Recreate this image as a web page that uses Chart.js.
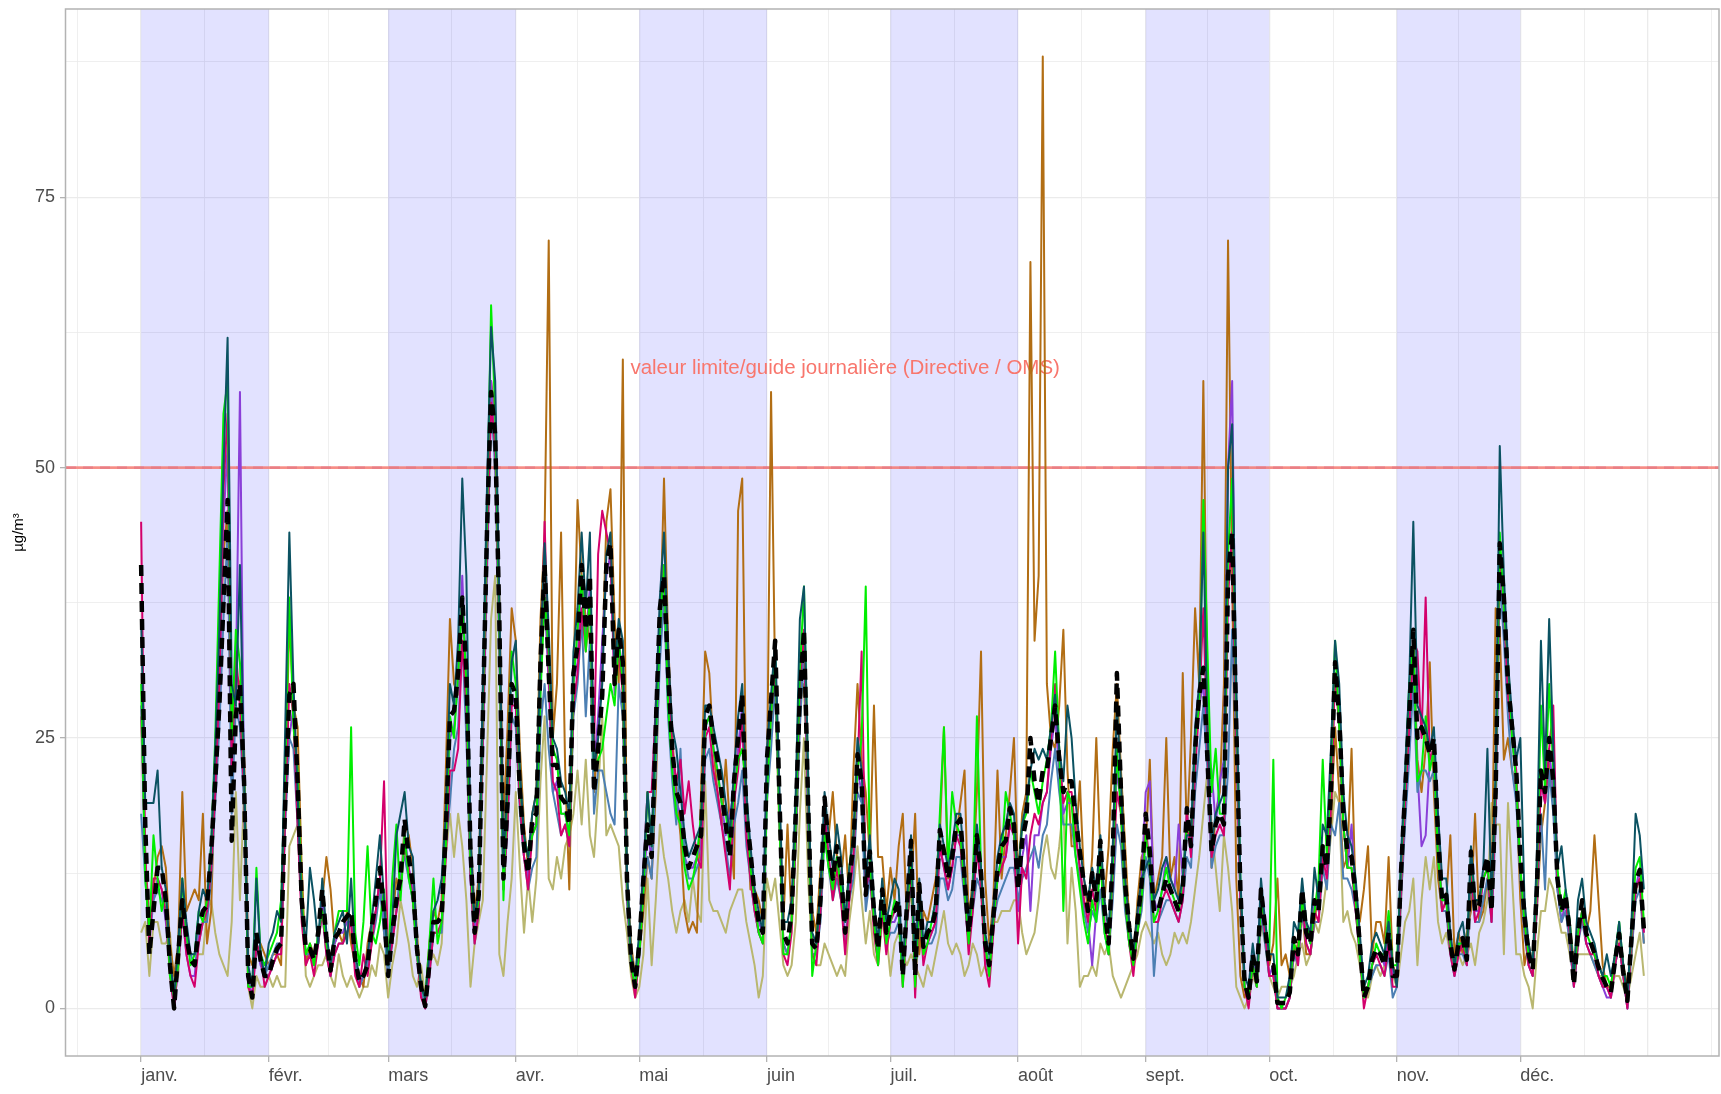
<!DOCTYPE html>
<html lang="fr">
<head>
<meta charset="utf-8">
<title>PM10 - moyennes journalières</title>
<script src="https://cdn.jsdelivr.net/npm/chart.js@4.4.1/dist/chart.umd.min.js"></script>
<style>
  html, body { margin: 0; padding: 0; background: #ffffff; }
  #chart { display: block; }
</style>
</head>
<body>
<canvas id="chart" width="1721" height="1094"></canvas>
<script>
// Month starts as day index from 1 Jan (leap year), last one is 1 Jan next year
const monthStarts = [0, 31, 60, 91, 121, 152, 182, 213, 244, 274, 305, 335, 366];
const monthLabels = ['janv.', 'févr.', 'mars', 'avr.', 'mai', 'juin', 'juil.', 'août', 'sept.', 'oct.', 'nov.', 'déc.'];
// Months shaded in the background (index in monthStarts)
const shadedMonths = [0, 2, 4, 6, 8, 10];
const yTickValues = [0, 25, 50, 75];
const limitValue = 50;
const limitLabel = 'valeur limite/guide journalière (Directive / OMS)';

// Daily values, µg/m³, one line per month
const stationMean = [
  41,17,5,9,13,13,10,4,0,5,10,6.5,4.5,4,7.5,9,9.5,14.5,21,28,37.5,47,15.5,27,30,21,3,1,7,4.5,3,
  3,4.5,5.5,6,19,29,30,21,10,5.5,5.5,4.5,7,11,6.5,3.5,6.5,7,8,8.5,9,4.5,2.5,3,4,7.5,10,13,9,
  3,7,10,12,17.5,14,11.5,5.5,2,0.2,4,8,8,8.5,16.5,27,27.5,31,38,31,14.5,7,10.5,27,44,57,53,36,12,19,30,
  29,20,15,12.5,17.5,18,32,41,31,22.5,22.5,19.5,19,17,31,33.5,41,35,40,20,24,29,41,43,30,35,32,12,4.5,2,
  6,12,17,14,26,37,40,31,24,20,19,15,13,14,15,16,27,28,25,23,20,17,14,21,25,29,18,14.5,10.5,8,7,
  23,28.5,34,20,7,6,9,18,29,35,19,6,5.5,10,19.5,15,12,15,12.5,7,12,15,23.5,21,10.5,14.5,9,5.5,11,7,
  9,9,10,3,9.5,15.5,3,11.5,5.7,7,7.5,9,16.5,14.5,12,14,17,17.5,12,7,10.5,16,12.5,6,4,8.5,13,15,15.5,18.5,17,
  11,15.5,17.5,25,21,19,22,22,25,28,23,20,21,21,17.5,14.5,11.5,9,12.5,10,15.5,9,6,14,31,20,11.5,7.5,4.6,8,11.5,
  18,14.5,9,9,10.5,12,11,10,9,11,18.5,15,24,29,31.5,23,14.5,17,18,17,40,44,26,11,2.5,1,5,2.5,11,7.5,
  4,4,0.5,0.5,0.5,1.5,6.5,5,11,7,6,10,9,15,13,20,32,27,18,14.5,14,10.5,6,1,2,4.5,5.5,5,4,7,3,
  3,12.5,20,27,35,25,26,25,23.5,25,16,10,10.5,6,3.6,6,6.5,4.5,14.5,9,9.5,12.5,14,9,20,43,38,30,26,22,
  14,8.5,5,3.6,11,22,20,25,21,12,9,10.5,7,2.2,7,10,6.9,6.2,5.1,3.8,2.8,2,1.5,4.4,6.9,3.3,0.7,6.6,11.7,12.8,7.3
];

const stationTeal = [
  36,19,19,19,22,13,11,5,1,6,12,8,5,5,9,11,10,15,24,35,50,62,30,28,41,22,4,2,12,5,3,
  6,7,9,8,26,44,30,20,9,6,13,10,6,12,7,4,7,8,9,6,12,5,3,3,5,8,12,16,10,
  4,8,16,18,20,15,14,6,2,1,5,9,10,12,18,30,28,34,49,40,16,8,11,30,48,63,58,38,13,22,32,
  34,22,16,14,18,20,33,43,35,25,24,21,20,18,33,37,44,37,44,22,25,30,42,44,31,36,34,13,5,3,
  7,13,20,15,28,38,44,33,26,24,20,16,14,15,16,17,28,28,26,24,22,19,16,22,27,30,20,15,11,9,7,
  24,29,34,21,8,8,10,20,36,39,22,7,6,11,20,16,13,17,14,8,13,16,25,22,12,16,10,6,12,8,
  10,12,11,4,10,16,4,12,6,8,8,10,17,15,13,15,18,18,13,8,11,17,13,7,5,9,14,16,17,19,18,
  12,17,19,22,24,23,24,23,26,29,24,21,28,25,19,15,12,10,13,11,16,10,7,15,28,21,12,8,5,9,12,
  13,14,10,11,13,14,12,11,10,12,16,16,26,30,44,26,15,18,19,20,50,54,30,12,3,2,6,3,12,8,
  5,5,1,1,1,3,8,7,12,8,7,13,10,17,16,24,34,30,20,16,15,12,7,2,3,6,7,6,5,8,4,
  2,14,22,30,45,28,27,26,24,26,18,12,12,7,4,7,8,5,15,10,10,13,24,10,22,52,40,32,27,23,
  25,10,6,4,14,34,22,36,24,13,15,11,8,3,10,12,8,7,6,4,3,5,3,5,8,4,1,8,18,16,11
];

const stationGreen = [
  30,12,7,16,12,9,11,3,1,4,12,7,4,5,9,8,10,15,25,40,55,58,25,35,32,22,2,2,13,5,4,
  5,6,7,10,22,38,26,22,10,5,6,4,7,9,6,4,7,9,9,9,26,7,4,8,15,7,6,8,11,
  4,12,17,10,16,12,10,5,2,1,6,12,6,8,15,27,25,31,38,30,13,8,10,28,45,65,55,35,10,21,33,
  30,21,16,14,16,17,29,38,33,24,23,18,18,16,30,35,40,33,38,22,23,24,27,30,28,34,30,12,4,2,
  5,11,20,15,25,35,41,28,22,18,17,13,11,12,14,18,26,27,24,22,19,18,15,20,23,24,20,13,10,7,6,
  20,27,33,18,5,5,8,17,31,39,21,3,6,11,16,13,11,14,11,8,13,16,22,25,39,14,8,4,10,6,
  8,10,9,2,9,14,2,10,5,6,8,10,18,26,13,20,17,16,11,6,11,27,13,6,3,8,12,14,20,18,16,
  12,17,18,22,20,18,21,23,26,33,24,9,20,19,14,11,8,6,10,8,14,7,5,13,24,18,10,6,4,7,10,
  16,13,8,9,11,13,11,10,9,12,17,16,25,28,47,33,20,24,18,18,42,49,28,12,2,1,4,2,10,8,
  5,23,1,0,1,2,6,5,10,8,6,9,12,23,14,22,34,26,17,13,13,10,5,1,2,4,6,5,5,9,4,
  4,13,21,30,34,21,22,27,22,24,14,10,10,6,4,6,6,5,14,10,10,12,13,10,21,44,37,32,25,21,
  13,8,5,4,12,28,20,30,22,13,9,11,8,3,7,9,7,6,5,4,3,3,2,5,8,4,1,7,13,14,8
];

const stationMagenta = [
  45,14,6,12,12,11,9,3,0,4,9,5,3,2,6,8,9,13,20,30,48,55,22,33,28,20,2,1,6,5,2,
  3,4,5,5,18,30,27,17,8,4,5,3,6,9,5,3,5,6,6,7,8,3,2,5,3,6,9,12,21,
  4,6,9,11,15,13,10,5,1,0,3,7,7,8,14,22,22,24,34,28,12,6,9,25,42,56,52,34,11,17,28,
  28,19,14,11,16,17,30,45,31,21,20,16,17,15,28,31,37,33,38,24,42,46,44,42,30,33,29,11,4,1,
  5,13,20,20,28,36,41,31,24,21,23,18,21,17,14,13,25,26,22,20,17,14,11,19,22,27,16,12,9,7,6,
  22,27,32,19,5,4,7,16,30,35,19,5,4,9,18,14,10,13,10,5,10,14,22,33,11,13,7,4,9,5,
  8,9,9,2,8,13,1,10,4,6,7,8,15,13,11,13,16,15,11,5,9,15,11,4,2,7,12,13,14,17,16,
  6,13,12,16,18,17,19,20,25,30,24,19,20,20,16,13,10,8,11,9,14,8,5,12,20,18,10,6,3,7,10,
  17,13,8,8,10,11,10,9,8,10,18,14,22,28,37,24,14,16,17,16,38,44,25,10,2,0,4,2,10,7,
  3,3,0,0,0,1,6,4,10,6,5,9,8,14,12,19,31,26,17,13,13,9,5,0,2,4,5,4,3,6,2,
  2,11,19,26,34,33,25,38,23,24,15,9,10,5,3,5,6,4,13,8,9,12,13,8,19,42,37,29,25,22,
  13,8,4,3,10,21,19,24,28,12,9,10,7,2,6,9,6,5,5,3,2,2,1,4,6,3,0,6,11,12,7
];

const stationPurple = [
  28,13,6,10,12,11,8,4,0,4,9,5,3,3,7,8,9,13,20,29,45,52,25,30,57,20,3,1,6,4,3,
  3,4,5,6,18,25,28,19,9,5,5,4,6,10,6,3,6,7,7,8,8,4,2,3,4,7,9,12,8,
  3,7,9,11,16,13,11,5,2,0,4,8,8,8,16,25,26,30,40,30,14,7,10,26,44,58,52,35,11,18,29,
  28,19,14,12,17,17,31,38,30,20,21,18,18,16,30,32,40,34,39,22,27,34,40,42,29,34,31,11,4,2,
  5,12,16,14,25,36,39,30,23,19,18,14,13,13,14,15,26,27,24,22,19,16,18,20,24,28,17,14,10,8,7,
  22,28,33,19,6,5,8,17,28,34,18,5,5,9,18,14,11,14,12,6,11,14,22,20,10,13,8,5,10,6,
  8,8,9,3,9,14,3,11,5,6,7,8,15,13,11,13,16,16,11,6,10,15,12,5,3,8,12,14,14,17,16,
  9,14,16,9,16,16,19,20,24,27,22,18,19,19,16,13,10,8,4,9,14,8,5,13,22,19,10,6,4,7,12,
  20,21,10,9,11,14,12,11,17,12,18,15,24,28,30,24,22,17,21,23,50,58,26,11,2,1,5,2,11,7,
  3,4,0,0,0,1,6,5,11,7,6,10,9,15,13,19,31,27,17,13,17,10,6,1,2,4,5,5,4,7,3,
  3,12,19,26,33,22,15,16,23,24,15,10,10,6,3,6,6,4,14,9,9,12,13,8,19,42,37,29,25,21,
  13,7,4,3,10,21,19,24,20,11,8,10,6,2,6,9,6,6,5,3,2,1,1,4,6,3,0,6,11,13,7
];

const stationBlue = [
  18,12,7,10,11,10,9,5,1,4,9,6,5,4,6,8,8,12,19,26,36,44,18,28,26,19,3,2,6,5,3,
  4,5,6,6,17,25,24,17,9,5,5,4,6,9,5,3,5,6,6,7,8,4,2,3,4,6,8,11,7,
  3,6,9,13,14,12,10,5,2,0,3,7,7,7,15,19,24,26,34,25,12,6,9,24,40,56,50,33,11,17,27,
  26,18,14,11,13,14,26,30,24,20,18,16,17,15,27,30,36,27,34,18,22,22,20,18,17,30,27,10,4,2,
  5,11,14,12,22,32,38,27,21,17,24,14,12,12,13,14,23,24,21,19,17,15,12,17,19,22,15,12,9,7,6,
  19,24,30,18,6,5,8,15,26,33,17,5,5,8,16,13,10,12,10,6,10,12,20,19,9,12,8,5,9,6,
  7,7,8,3,8,12,3,9,5,6,6,7,12,12,10,11,14,14,10,6,9,12,11,6,4,8,10,11,12,13,13,
  10,12,13,14,15,13,16,17,21,24,20,17,17,17,14,12,9,7,9,8,11,7,5,10,17,15,9,6,4,7,9,
  14,12,3,8,9,10,10,9,8,10,14,13,20,24,28,22,13,15,16,16,22,35,24,10,2,1,4,2,9,6,
  3,3,0,0,0,1,5,4,9,6,5,8,8,13,11,17,16,19,12,12,11,9,5,1,2,3,4,4,3,5,1,
  2,10,17,23,30,20,22,22,21,22,14,9,9,5,3,5,5,4,12,8,8,10,12,8,17,40,34,27,22,19,
  12,7,4,3,9,18,11,22,18,11,8,9,6,2,6,8,6,5,4,3,2,2,1,4,6,3,0,5,10,11,6
];

const stationBrown = [
  27,14,8,11,14,15,13,6,3,6,20,9,10,11,10,18,6,9,22,32,42,46,22,31,30,24,5,4,5,6,5,
  4,5,5,4,20,36,28,26,13,4,6,5,6,10,14,11,6,7,6,9,6,4,3,2,6,8,9,12,7,
  4,8,12,11,17,16,13,7,2,1,6,9,8,10,22,36,30,29,34,30,16,9,12,29,46,58,55,38,17,26,37,
  34,24,17,13,18,20,36,44,71,25,30,44,22,11,30,47,40,36,34,20,25,32,45,48,36,30,60,12,6,3,
  5,9,14,12,20,34,49,34,25,20,16,9,7,8,7,20,33,31,24,20,17,23,17,12,46,49,19,11,11,10,8,
  20,57,30,17,8,17,8,15,28,30,20,9,7,13,16,16,20,14,12,16,10,22,30,23,20,14,28,14,14,9,
  13,10,15,18,8,11,18,5,9,8,10,12,16,26,12,15,16,19,22,8,12,20,33,12,6,10,22,12,16,20,25,
  12,18,20,69,34,40,88,30,25,24,28,35,22,15,15,21,12,9,14,25,14,10,15,24,30,22,15,8,4,10,14,
  15,23,10,12,14,25,12,14,10,31,16,25,37,30,58,28,13,18,20,30,71,40,12,3,1,2,4,3,10,8,
  4,6,12,4,5,3,5,6,9,5,5,8,11,13,14,17,26,20,13,14,24,10,8,11,15,5,8,8,6,14,4,
  3,10,18,24,34,23,20,24,32,20,12,9,10,16,5,7,5,7,9,18,8,9,12,10,37,35,23,25,22,20,
  10,4,6,4,9,16,19,23,20,12,9,10,8,4,7,9,7,9,16,10,4,2,2,5,7,4,2,5,11,12,6
];

const stationOlive = [
  7,8,3,8,8,6,6,7,2,3,9,6,5,5,5,5,9,10,7,5,4,3,8,20,10,20,2,0,3,2,2,
  3,2,3,2,2,15,16,17,12,3,2,3,4,4,5,3,2,5,3,2,3,2,1,2,2,4,3,6,5,
  1,4,6,10,8,6,3,2,4,1,4,5,4,6,14,18,14,18,15,10,2,6,8,10,23,36,40,5,3,8,12,
  20,13,7,12,8,12,21,27,12,11,14,12,15,16,18,22,17,23,16,14,20,27,16,17,16,15,10,7,3,1,
  2,5,12,4,10,17,14,12,9,7,9,10,8,12,9,8,21,10,9,9,8,7,9,10,11,11,8,6,4,1,3,
  12,10,12,8,4,3,4,8,18,25,12,5,4,4,6,5,4,3,4,3,8,11,15,10,6,9,5,4,8,7,
  3,6,7,5,4,5,4,3,2,4,3,5,7,9,6,5,6,5,3,4,6,5,3,4,5,8,8,9,9,9,10,
  10,7,5,6,7,10,14,16,13,12,15,19,6,13,9,2,3,3,4,3,6,5,6,3,2,1,2,3,4,5,7,
  8,7,6,7,5,4,5,7,6,7,6,8,11,14,18,22,17,13,9,16,13,9,2,1,0,1,3,2,8,6,
  3,2,1,2,2,2,3,5,6,4,5,8,7,9,12,16,20,19,8,9,7,6,4,2,1,3,4,3,4,5,3,
  2,5,8,9,12,4,10,14,11,14,8,6,7,5,4,5,4,5,6,4,7,8,10,19,17,17,5,19,12,5,
  5,3,2,0,5,9,9,12,11,9,7,7,5,3,5,5,5,5,4,3,3,2,2,3,3,2,1,3,5,7,3
];

const FONT = "'Liberation Sans', Arial, Helvetica, sans-serif";

const pmChart = {
  chart: null,

  /**
   * Initialize chart
   */
  init() {
    Chart.defaults.font.family = FONT;
    const ctx = document.getElementById('chart').getContext('2d');

    this.chart = new Chart(ctx, {
      type: 'line',
      data: { datasets: this.buildDatasets() },
      options: this.buildOptions(),
      plugins: [this.backgroundPlugin(), this.framePlugin()]
    });
  },

  /**
   * Day index -> {x, y} points
   */
  toPoints(values) {
    return values.map((v, i) => ({ x: i, y: v }));
  },

  /**
   * Datasets, first one is drawn on top
   */
  buildDatasets() {
    const series = [
      { data: stationMean, color: '#000000', width: 4.5, dash: [11, 7] },
      { data: stationTeal, color: '#0b5262', width: 2 },
      { data: stationGreen, color: '#00ee00', width: 2 },
      { data: stationMagenta, color: '#d3006c', width: 2 },
      { data: stationBlue, color: '#4c7fb3', width: 2 },
      { data: stationPurple, color: '#8a3fd8', width: 2 },
      { data: stationBrown, color: '#b26e14', width: 2 },
      { data: stationOlive, color: '#b9b770', width: 2 }
    ];

    return series.map(s => ({
      data: this.toPoints(s.data),
      borderColor: s.color,
      borderWidth: s.width,
      borderDash: s.dash || [],
      borderCapStyle: 'butt',
      borderJoinStyle: 'round',
      pointRadius: 0,
      tension: 0,
      fill: false
    }));
  },

  /**
   * Scales and general options
   */
  buildOptions() {
    const majorX = monthStarts;
    const minorX = [];
    for (let i = 0; i < monthStarts.length - 1; i++) {
      minorX.push((monthStarts[i] + monthStarts[i + 1]) / 2);
    }
    minorX.unshift(-15.5);
    minorX.push(381.5);
    const xTicks = majorX.concat(minorX).sort((a, b) => a - b);
    const yTicks = [0, 12.5, 25, 37.5, 50, 62.5, 75, 87.5];

    const isMajorX = v => majorX.includes(v);
    const isMajorY = v => yTickValues.includes(v);

    return {
      responsive: false,
      animation: false,
      devicePixelRatio: 1,
      layout: { padding: { top: 9, right: 2, left: 0, bottom: 0 } },
      plugins: {
        legend: { display: false },
        tooltip: { enabled: false }
      },
      scales: {
        x: {
          type: 'linear',
          min: -18.25,
          max: 383.25,
          afterBuildTicks: scale => { scale.ticks = xTicks.map(v => ({ value: v })); },
          afterFit: scale => {
            scale.height = 38;
            scale.paddingLeft = 0;
            scale.paddingRight = 0;
          },
          border: { display: false },
          grid: {
            color: '#ebebeb',
            lineWidth: c => (c.tick && isMajorX(c.tick.value)) ? 1.3 : 0.8,
            tickLength: 6,
            tickColor: c => (c.tick && isMajorX(c.tick.value) && c.tick.value < 366) ? '#b3b3b3' : 'rgba(0,0,0,0)',
            tickWidth: 1.3
          },
          ticks: {
            autoSkip: false,
            maxRotation: 0,
            minRotation: 0,
            align: 'start',
            padding: 3,
            color: '#4d4d4d',
            font: { size: 18, family: FONT },
            callback: value => {
              const idx = monthStarts.indexOf(value);
              return (idx >= 0 && idx < monthLabels.length) ? monthLabels[idx] : '';
            }
          }
        },
        y: {
          type: 'linear',
          min: -4.4,
          max: 92.4,
          afterBuildTicks: scale => { scale.ticks = yTicks.map(v => ({ value: v })); },
          afterFit: scale => {
            scale.width = 66;
            scale.paddingTop = 0;
            scale.paddingBottom = 0;
          },
          border: { display: false },
          grid: {
            color: '#ebebeb',
            lineWidth: c => (c.tick && isMajorY(c.tick.value)) ? 1.3 : 0.8,
            tickLength: 6,
            tickColor: c => (c.tick && isMajorY(c.tick.value)) ? '#b3b3b3' : 'rgba(0,0,0,0)',
            tickWidth: 1.3
          },
          ticks: {
            padding: 5,
            color: '#4d4d4d',
            font: { size: 18, family: FONT },
            callback: value => isMajorY(value) ? String(value) : ''
          }
        }
      }
    };
  },

  /**
   * Shaded months, limit line and its label (under the series)
   */
  backgroundPlugin() {
    return {
      id: 'background',
      beforeDatasetsDraw(chart) {
        const { ctx, chartArea, scales } = chart;
        const { x, y } = scales;
        ctx.save();
        ctx.beginPath();
        ctx.rect(chartArea.left, chartArea.top, chartArea.right - chartArea.left, chartArea.bottom - chartArea.top);
        ctx.clip();

        // Shaded months
        ctx.fillStyle = 'rgba(0, 0, 255, 0.115)';
        shadedMonths.forEach(m => {
          const x0 = x.getPixelForValue(monthStarts[m]);
          const x1 = x.getPixelForValue(monthStarts[m + 1]);
          ctx.fillRect(x0, chartArea.top, x1 - x0, chartArea.bottom - chartArea.top);
        });

        // Limit value line
        const yl = y.getPixelForValue(limitValue);
        ctx.lineWidth = 2.6;
        ctx.strokeStyle = 'rgba(248, 118, 109, 0.8)';
        ctx.beginPath();
        ctx.moveTo(chartArea.left, yl);
        ctx.lineTo(chartArea.right, yl);
        ctx.stroke();
        ctx.setLineDash([10, 7]);
        ctx.strokeStyle = 'rgba(220, 110, 130, 0.45)';
        ctx.beginPath();
        ctx.moveTo(chartArea.left, yl);
        ctx.lineTo(chartArea.right, yl);
        ctx.stroke();
        ctx.setLineDash([]);

        // Label
        ctx.fillStyle = '#f8766d';
        ctx.font = '20.5px ' + FONT;
        ctx.textAlign = 'center';
        ctx.textBaseline = 'middle';
        ctx.fillText(limitLabel, x.getPixelForValue(171), y.getPixelForValue(59.2));
        ctx.restore();
      }
    };
  },

  /**
   * Panel border and y axis title
   */
  framePlugin() {
    return {
      id: 'frame',
      afterDraw(chart) {
        const { ctx, chartArea } = chart;
        ctx.save();
        ctx.strokeStyle = '#b3b3b3';
        ctx.lineWidth = 1.5;
        ctx.strokeRect(chartArea.left - 0.5, chartArea.top, chartArea.right - chartArea.left + 0.5, chartArea.bottom - chartArea.top);

        ctx.translate(19, (chartArea.top + chartArea.bottom) / 2);
        ctx.rotate(-Math.PI / 2);
        ctx.fillStyle = '#000000';
        ctx.font = '15px ' + FONT;
        ctx.textAlign = 'center';
        ctx.textBaseline = 'middle';
        ctx.fillText('µg/m³', 0, 0);
        ctx.restore();
      }
    };
  }
};

pmChart.init();
</script>
</body>
</html>
